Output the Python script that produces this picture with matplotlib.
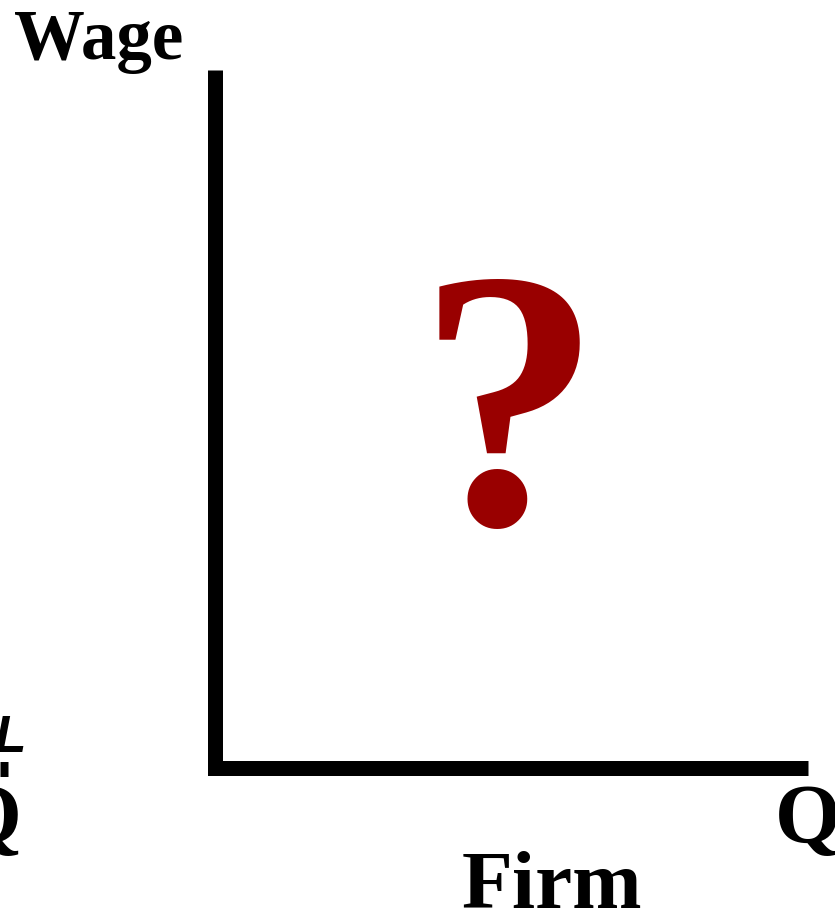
import matplotlib
matplotlib.use('Agg')
from matplotlib import pyplot as plt

# axis frame of the firm's labour-market diagram (pixel units of the canvas)
axis_x = [215, 215, 808]
axis_y = [70, 768, 768]

# labels: text, x, y
labels = ['Wage', 'Firm', 'Q', 'Q', 'L']
label_x = [14, 552, 775, -44, -6]
label_y = [59, 908, 843, 843, 752]

serif = 'Liberation Serif'

fig = plt.figure(figsize=(8.35, 9.16), dpi=100)
ax = fig.add_axes([0, 0, 1, 1])
ax.set_xlim(0, 835)
ax.set_ylim(916, 0)
ax.axis('off')

ax.plot(axis_x, axis_y, color='black', linewidth=10.8,
        solid_joinstyle='miter', solid_capstyle='butt')

ax.text(label_x[0], label_y[0], labels[0], fontsize=51, fontweight='bold',
        family=serif, ha='left', va='baseline')
ax.text(label_x[1], label_y[1], labels[1], fontsize=60, fontweight='bold',
        family=serif, ha='center', va='baseline')
ax.text(label_x[2], label_y[2], labels[2], fontsize=61, fontweight='bold',
        family=serif, ha='left', va='baseline')
ax.text(label_x[3], label_y[3], labels[3], fontsize=61, fontweight='bold',
        family=serif, ha='left', va='baseline')
ax.text(label_x[4], label_y[4], labels[4], fontsize=37, fontweight='bold',
        style='italic', family='Liberation Sans', ha='left', va='baseline')

# clipped tick of the neighbouring diagram
ax.plot([0, 8], [769, 769], color='black', linewidth=10.8, solid_capstyle='butt')

ax.text(509, 524, '?', fontsize=266, fontweight='bold', family=serif,
        color='#990000', ha='center', va='baseline')

fig.savefig('out.png', dpi=100)
